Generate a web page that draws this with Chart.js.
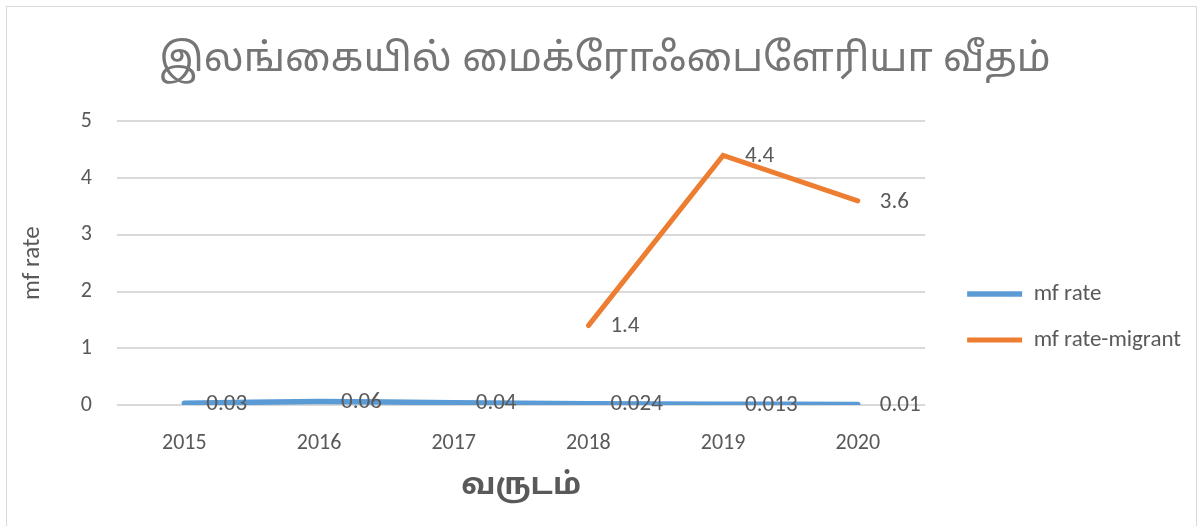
<!DOCTYPE html>
<html>
<head>
<meta charset="utf-8">
<script src="https://cdn.jsdelivr.net/npm/chart.js@4.4.1/dist/chart.umd.min.js"></script>
<style>
  html, body { margin: 0; padding: 0; background: #fff; overflow: hidden; }
  #wrap { position: relative; width: 1204px; height: 526px; overflow: hidden; }
  #frame { position: absolute; left: 6px; top: 6px; width: 1191px; height: 540px; border: 1px solid #d9d9d9; box-sizing: border-box; }
  canvas { position: absolute; left: 0; top: 0; }
</style>
</head>
<body>
<div id="wrap">
  <div id="frame"></div>
  <canvas id="chart" width="1204" height="526"></canvas>
</div>
<script>
const years = ['2015', '2016', '2017', '2018', '2019', '2020'];
const mfRate = [0.03, 0.06, 0.04, 0.024, 0.013, 0.01];
const mfRateMigrant = [null, null, null, 1.4, 4.4, 3.6];
const titleText = 'இலங்கையில் மைக்ரோஃபைளேரியா வீதம்';
const xTitle = 'வருடம்';
const yTitle = 'mf rate';

const tamilFont = '"Noto Sans Tamil", "Lohit Tamil", "Latha", "Noto Sans", sans-serif';
const textFont = 'Carlito, Calibri, "Open Sans", "Noto Sans", sans-serif';
const grey = '#595959';

// Excel style value labels, drawn to the right of each point
const valueLabels = {
    id: 'valueLabels',
    afterDatasetsDraw: (chart) => {
        const ctx = chart.ctx;
        ctx.save();
        ctx.font = '23px ' + textFont;
        ctx.fillStyle = grey;
        ctx.textAlign = 'left';
        ctx.textBaseline = 'middle';
        chart.data.datasets.forEach((ds, i) => {
            const meta = chart.getDatasetMeta(i);
            meta.data.forEach((pt, j) => {
                const v = ds.data[j];
                if (v === null || v === undefined) return;
                ctx.fillText(String(v), pt.x + 22, pt.y + 1);
            });
        });
        ctx.restore();
    }
};

// nudge legend and title a little, like the Excel original
const layoutNudge = {
    id: 'layoutNudge',
    afterLayout: (chart) => {
        const lg = chart.legend;
        if (lg) {
            lg.left += 19;
            lg.right += 19;
            lg.top += 54;
            lg.bottom += 54;
        }
        const tb = chart.titleBlock;
        if (tb) {
            tb.left += 15;
            tb.right += 15;
        }
    }
};

const ctx = document.getElementById('chart').getContext('2d');
new Chart(ctx, {
    type: 'line',
    data: {
        labels: years,
        datasets: [
            {
                label: 'mf rate',
                data: mfRate,
                borderColor: '#5B9BD5',
                backgroundColor: '#5B9BD5',
                borderWidth: 5.5,
                pointRadius: 0,
                borderCapStyle: 'round',
                tension: 0.3
            },
            {
                label: 'mf rate-migrant',
                data: mfRateMigrant,
                borderColor: '#ED7D31',
                backgroundColor: '#ED7D31',
                borderWidth: 5,
                pointRadius: 0,
                borderCapStyle: 'round',
                tension: 0
            }
        ]
    },
    options: {
        responsive: false,
        animation: false,
        layout: { padding: { left: 8, right: 32, top: 0, bottom: 0 } },
        plugins: {
            title: {
                display: true,
                text: titleText,
                color: '#757575',
                font: { family: tamilFont, size: 39.5, weight: 'normal' },
                padding: { top: 39, bottom: 35 }
            },
            legend: {
                position: 'right',
                align: 'center',
                labels: {
                    usePointStyle: true,
                    pointStyle: 'line',
                    pointStyleWidth: 55,
                    color: grey,
                    font: { family: textFont, size: 23 },
                    padding: 23
                }
            },
            tooltip: { enabled: false }
        },
        scales: {
            x: {
                offset: true,
                grid: { display: false },
                border: { display: false },
                ticks: { color: grey, font: { family: textFont, size: 22 }, padding: 17 },
                title: {
                    display: true,
                    text: xTitle,
                    color: grey,
                    font: { family: tamilFont, size: 30, weight: 'bold' },
                    padding: { top: 10, bottom: 20 }
                },
                afterFit: (scale) => { scale.height = 121; }
            },
            y: {
                min: 0,
                max: 5,
                ticks: { stepSize: 1, color: grey, font: { family: textFont, size: 22 }, padding: 25 },
                grid: { color: '#d9d9d9', lineWidth: 2, drawTicks: false },
                border: { display: false },
                title: {
                    display: true,
                    text: yTitle,
                    color: grey,
                    font: { family: textFont, size: 25 },
                    padding: { top: 10, bottom: 0 }
                },
                afterFit: (scale) => { scale.width = 109; }
            }
        }
    },
    plugins: [valueLabels, layoutNudge]
});
</script>
</body>
</html>
